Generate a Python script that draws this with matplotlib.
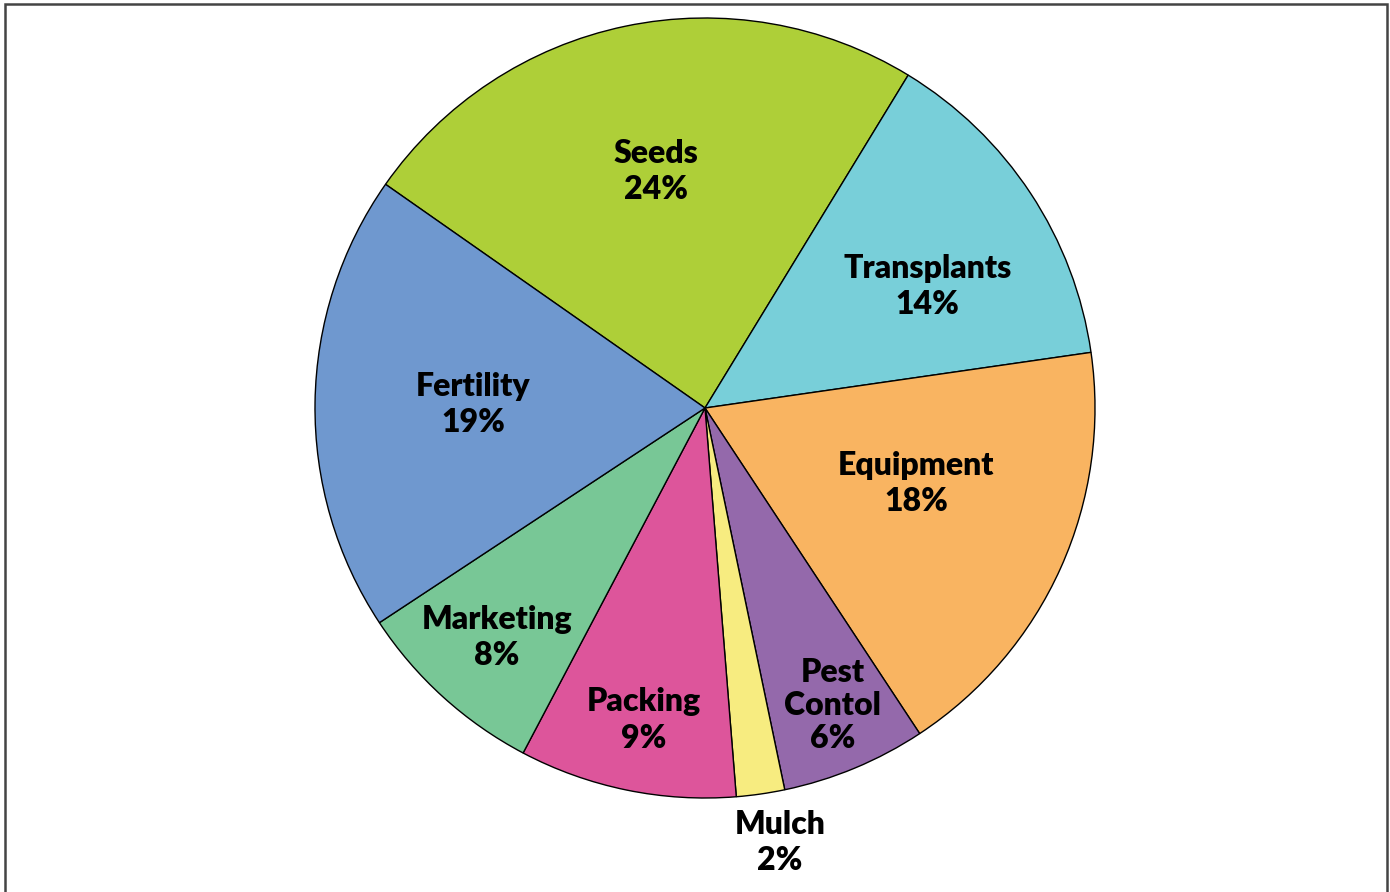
import matplotlib
matplotlib.use("Agg")
import matplotlib.pyplot as plt
import numpy as np
from matplotlib.patches import Rectangle

categories = ["Seeds", "Transplants", "Equipment", "Pest\nContol", "Mulch", "Packing", "Marketing", "Fertility"]
values = [24, 14, 18, 6, 2, 9, 8, 19]
colors = ["#AECF38", "#78CFD9", "#F9B461", "#9469AB", "#F7EC80", "#DD559B", "#78C796", "#6F98CF"]
label_radius = [0.62, 0.65, 0.575, 0.83, 1.13, 0.815, 0.795, 0.595]
label_angle_shift = [0.0, -4.8, 4.6, 0.6, 1.6, 0.5, 0.0, 0.0]
label_spacing = [1.3, 1.3, 1.3, 1.15, 1.3, 1.3, 1.3, 1.3]

W, H = 1390, 892
fig = plt.figure(figsize=(W / 100, H / 100), dpi=100)
cx, cy, R = 705, H - 408, 390
ax = fig.add_axes([(cx - R) / W, (cy - R) / H, 2 * R / W, 2 * R / H])
start = 145.0
wedges, _ = ax.pie(values, colors=colors, startangle=start, counterclock=False,
                   radius=1.0, wedgeprops=dict(edgecolor="black", linewidth=1.0))
ax.set_xlim(-1, 1)
ax.set_ylim(-1, 1)
ax.axis("off")

for w, cat, v, lr, sh, ls in zip(wedges, categories, values, label_radius,
                                 label_angle_shift, label_spacing):
    mid = np.deg2rad((w.theta1 + w.theta2) / 2 + sh)
    ax.text(lr * np.cos(mid), lr * np.sin(mid), f"{cat}\n{v}%", ha="center", va="center",
            fontsize=23, fontweight="heavy", family=["Lato", "DejaVu Sans"],
            linespacing=ls, clip_on=False)

fig.patches.append(Rectangle((4.5 / W, -0.05), (1386.5 - 4.5) / W, 1 - 4 / H + 0.05,
                             transform=fig.transFigure, fill=False, edgecolor="#444444",
                             linewidth=1.8))
fig.savefig("out.png", dpi=100)
